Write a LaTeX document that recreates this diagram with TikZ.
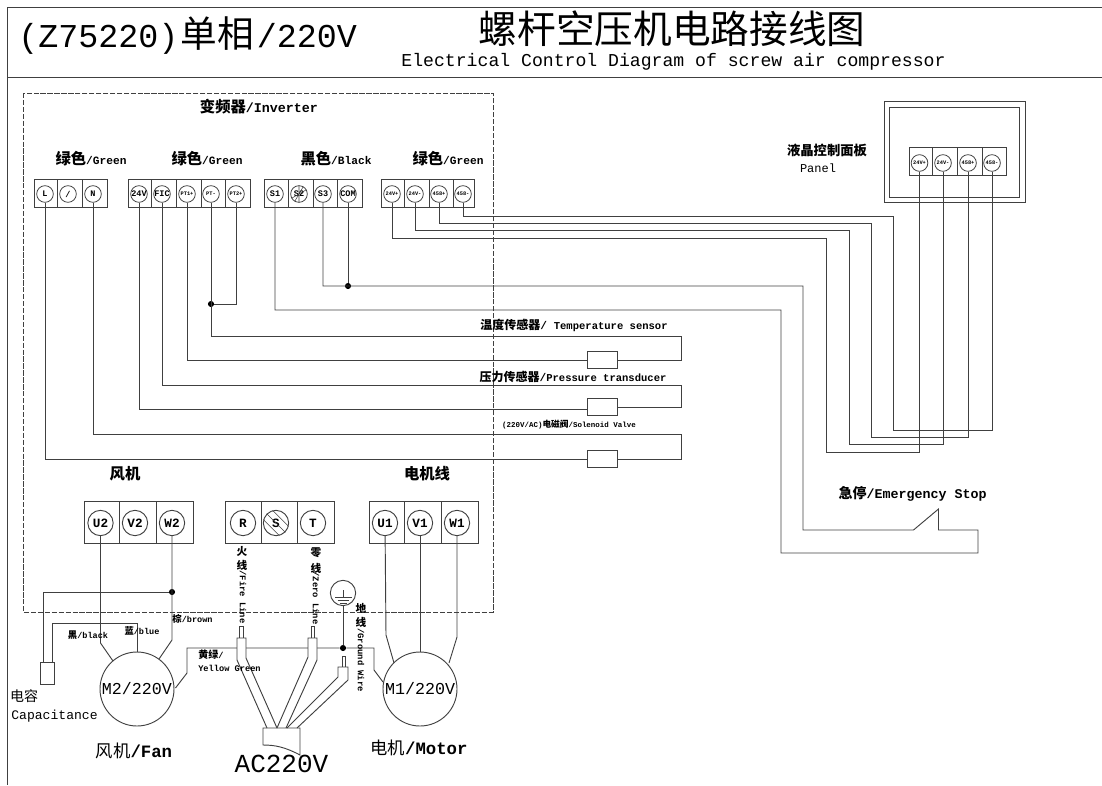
\documentclass[tikz,border=0pt]{standalone}
\usepackage{fontspec}
\setmainfont{Liberation Mono}
\newfontfamily\cjk{Noto Sans CJK SC}
\newcommand{\pxf}[1]{\fontsize{#1}{#1}\selectfont}
\newcommand{\zh}[2]{{\cjk\pxf{#1}#2}}
\definecolor{wirecol}{gray}{0.25}
\tikzset{
	wire/.style={draw=wirecol,line width=0.7pt},
	termS/.style={circle,draw=wirecol,line width=0.6pt,inner sep=0pt,minimum size=12.5pt,font=\bfseries\pxf{6.4}},
	termT/.style={termS,font=\bfseries\pxf{4}},
	termB/.style={circle,draw=wirecol,line width=0.7pt,inner sep=0pt,minimum size=19pt,font=\bfseries\pxf{9.5}},
	motor/.style={circle,draw=wirecol,line width=0.7pt,inner sep=0pt,minimum size=55.5pt,font=\pxf{12.5}},
	joint/.style={circle,fill=black,inner sep=0pt,minimum size=4.6pt},
	valvebox/.style={rectangle,draw=wirecol,line width=0.7pt,inner sep=0pt,minimum width=22.5pt,minimum height=13pt},
	txt/.style={inner sep=0pt,font=\bfseries\pxf{8.4}},
	sidetxt/.style={inner sep=0pt,rotate=-90,font=\bfseries\pxf{6.6}}
}
\begin{document}
\begin{tikzpicture}[x=0.75pt,y=-0.75pt]
	\useasboundingbox (0,0) rectangle (1102,785);
	% frame and title
	\draw[wire] (1102,7) -- (7,7) -- (7,785);
	\draw[wire] (7,77) -- (1102,77);
	\node[inner sep=0pt,anchor=west,font=\pxf{25}] (title) at (18,36) {(Z75220)\hspace{2pt}\zh{27.5}{单相}\hspace{2pt}/220V};
	\node[inner sep=0pt] (titlecn) at (672,28.5) {\zh{29}{螺杆空压机电路接线图}};
	\node[inner sep=0pt,font=\pxf{13.6}] (titleen) at (673.5,62) {Electrical Control Diagram of screw air compressor};
	
	% inverter
	\draw[wire,line width=0.5pt,dash pattern=on 4pt off 1.2pt] (23,93) rectangle (493,612);
	\node[txt] (inv) at (259,107) {\zh{11.5}{变频器}\pxf{10}/Inverter};
	\node[txt] (grnA) at (91,159) {\zh{11.5}{绿色}/Green};
	\node[txt] (grnB) at (207,159) {\zh{11.5}{绿色}/Green};
	\node[txt] (blk) at (336,159) {\zh{11.5}{黑色}/Black};
	\node[txt] (grnC) at (448,159) {\zh{11.5}{绿色}/Green};
	
	\draw[wire] (34,179) rectangle (107,207) (57,179) -- (57,207) (82,179) -- (82,207);
	\node[termS] (L) at (45,194) {L};
	\node[termS] (slash) at (68,194) {/};
	\node[termS] (N) at (93,194) {N};
	
	\draw[wire] (128,179) rectangle (250,207) (151,179) -- (151,207) (176,179) -- (176,207) (201,179) -- (201,207) (225,179) -- (225,207);
	\node[termS] (v24) at (139,194) {24V};
	\node[termS] (FIC) at (162,194) {FIC};
	\node[termT] (PTa) at (187,194) {PT1+};
	\node[termT] (PTm) at (211,194) {PT-};
	\node[termT] (PTb) at (236,194) {PT2+};
	
	\draw[wire] (264,179) rectangle (362,207) (288,179) -- (288,207) (313,179) -- (313,207) (337,179) -- (337,207);
	\node[termS] (Sa) at (275,194) {S1};
	\node[termS] (Sb) at (299,194) {S2};
	\draw[wire,line width=0.4pt] (Sb.60) -- (Sb.-120) (Sb.30) -- (Sb.-150) (Sb.90) -- (Sb.-90);
	\node[termS] (Sc) at (323,194) {S3};
	\node[termS] (COM) at (348,194) {COM};
	
	\draw[wire] (381,179) rectangle (474,207) (404,179) -- (404,207) (429,179) -- (429,207) (453,179) -- (453,207);
	\node[termT] (vp) at (392,194) {24V+};
	\node[termT] (vm) at (415,194) {24V-};
	\node[termT] (dp) at (439,194) {458+};
	\node[termT] (dm) at (463,194) {458-};
	
	% panel
	\draw[wire] (884,101) rectangle (1025,202);
	\draw[wire] (889.5,107) rectangle (1019.5,197);
	\node[txt,font=\pxf{10}] (panelcn) at (827,150) {\zh{10}{\bfseries 液晶控制面板}};
	\node[txt,font=\pxf{9}] (panelen) at (818,168) {Panel};
	\draw[wire] (909.5,147) rectangle (1006.5,175) (932.5,147) -- (932.5,175) (957.5,147) -- (957.5,175) (982,147) -- (982,175);
	\node[termT] (pvp) at (919.5,163) {24V+};
	\node[termT] (pvm) at (943,163) {24V-};
	\node[termT] (pdp) at (968,163) {458+};
	\node[termT] (pdm) at (992,163) {458-};
	
	% bus to panel
	\coordinate (busAa) at (463,216);
	\coordinate (busAb) at (893.5,216);
	\coordinate (busAc) at (893.5,430);
	\coordinate (busAd) at (992,430);
	\draw[wire] (dm) -- (busAa) -- (busAb) -- (busAc) -- (busAd) -- (pdm);
	\coordinate (busBa) at (439,223);
	\coordinate (busBb) at (871,223);
	\coordinate (busBc) at (871,437);
	\coordinate (busBd) at (968,437);
	\draw[wire] (dp) -- (busBa) -- (busBb) -- (busBc) -- (busBd) -- (pdp);
	\coordinate (busCa) at (415,230);
	\coordinate (busCb) at (849,230);
	\coordinate (busCc) at (849,444);
	\coordinate (busCd) at (943,444);
	\draw[wire] (vm) -- (busCa) -- (busCb) -- (busCc) -- (busCd) -- (pvm);
	\coordinate (busDa) at (392,238);
	\coordinate (busDb) at (826,238);
	\coordinate (busDc) at (826,452);
	\coordinate (busDd) at (919.5,452);
	\draw[wire] (vp) -- (busDa) -- (busDb) -- (busDc) -- (busDd) -- (pvp);
	
	% emergency stop
	\node[joint] (jCOM) at (348,286) {};
	\coordinate (stpA) at (323,286);
	\coordinate (stpB) at (803,286);
	\coordinate (stpC) at (803,530);
	\coordinate (stpD) at (913.5,530);
	\coordinate (stpE) at (938.5,509);
	\coordinate (stpF) at (938.5,530);
	\coordinate (stpG) at (978,530);
	\coordinate (stpH) at (978,553);
	\coordinate (stpI) at (781,553);
	\coordinate (stpJ) at (781,310);
	\coordinate (stpK) at (275,310);
	\draw[wire] (Sc) -- (stpA) -- (stpB) -- (stpC) -- (stpD) -- (stpE) -- (stpF) -- (stpG) -- (stpH) -- (stpI) -- (stpJ) -- (stpK) -- (Sa);
	\draw[wire] (COM) -- (jCOM);
	\node[txt] (estop) at (912.5,494) {\zh{10.5}{急停}\pxf{10}/Emergency Stop};
	
	% temperature sensor
	\node[joint] (jPT) at (211,304) {};
	\coordinate (tmpA) at (236,304);
	\coordinate (tmpB) at (211,336);
	\coordinate (tmpC) at (681,336);
	\coordinate (tmpD) at (681,360);
	\coordinate (tmpE) at (187,360);
	\node[valvebox] (tmpbox) at (602,360) {};
	\draw[wire] (PTb) -- (tmpA) -- (jPT);
	\draw[wire] (PTm) -- (tmpB) -- (tmpC) -- (tmpD) -- (tmpbox) -- (tmpE) -- (PTa);
	\node[txt] (tmptxt) at (574,325) {\zh{9}{温度传感器}/ \pxf{7.9}Temperature sensor};
	
	% pressure transducer
	\coordinate (prsA) at (162,385);
	\coordinate (prsB) at (681,385);
	\coordinate (prsC) at (681,407);
	\coordinate (prsD) at (587,409.5);
	\coordinate (prsE) at (139,409.5);
	\node[valvebox] (prsbox) at (602,407) {};
	\draw[wire] (FIC) -- (prsA) -- (prsB) -- (prsC) -- (prsbox);
	\draw[wire] (prsD) -- (prsE) -- (v24);
	\node[txt] (prstxt) at (573,377) {\zh{9}{压力传感器}/\pxf{7.9}Pressure transducer};
	
	% solenoid valve
	\coordinate (solA) at (93,434);
	\coordinate (solB) at (681,434);
	\coordinate (solC) at (681,459);
	\coordinate (solD) at (45,459);
	\node[valvebox] (solbox) at (602,459) {};
	\draw[wire] (N) -- (solA) -- (solB) -- (solC) -- (solbox) -- (solD) -- (L);
	\node[txt,font=\bfseries\pxf{5.6}] (soltxt) at (569,425) {(220V/AC)\zh{6.5}{电磁阀}/Solenoid Valve};
	
	% lower terminals
	\node[txt] (fancn) at (125,474) {\zh{11.5}{风机}};
	\node[txt] (motcn) at (427,474) {\zh{11.5}{电机线}};
	
	\draw[wire] (84,501) rectangle (193,543) (119,501) -- (119,543) (156,501) -- (156,543);
	\node[termB] (Ub) at (100.5,523) {U2};
	\node[termB] (Vb) at (135,523) {V2};
	\node[termB] (Wb) at (172,523) {W2};
	
	\draw[wire] (225,501) rectangle (334,543) (261,501) -- (261,543) (297,501) -- (297,543);
	\node[termB] (R) at (243,523) {R};
	\node[termB] (S) at (276,523) {S};
	\draw[wire,line width=0.4pt] (S.135) -- (S.-45) (S.165) -- (S.-75) (S.105) -- (S.-15);
	\node[termB] (T) at (313,523) {T};
	
	\draw[wire] (369,501) rectangle (478,543) (404,501) -- (404,543) (441,501) -- (441,543);
	\node[termB] (Ua) at (385,523) {U1};
	\node[termB] (Va) at (420,523) {V1};
	\node[termB] (Wa) at (457,523) {W1};
	
	% fan
	\node[motor] (Mb) at (137,689) {M2/220V};
	\node[rectangle,draw=wirecol,line width=0.7pt,inner sep=0pt,minimum width=10.5pt,minimum height=16pt] (cap) at (47,673.5) {};
	\node[joint] (jW) at (172,592) {};
	\coordinate (capA) at (43,592);
	\coordinate (capB) at (43,663);
	\coordinate (capC) at (52,623);
	\coordinate (capD) at (52,663);
	\coordinate (capE) at (137,623);
	\coordinate (fanU) at (100.5,643);
	\coordinate (fanUm) at (113,661);
	\coordinate (fanV) at (137,652);
	\coordinate (fanW) at (172,640);
	\coordinate (fanWm) at (159,659);
	\draw[wire] (Ub) -- (fanU) -- (fanUm);
	\draw[wire] (Wb) -- (fanW) -- (fanWm);
	\draw[wire] (jW) -- (capA) -- (capB);
	\draw[wire] (capD) -- (capC) -- (capE) -- (fanV);
	\node[txt,font=\bfseries\pxf{6.4}] (brown) at (192.5,619) {\zh{7}{棕}/brown};
	\node[txt,font=\bfseries\pxf{6.4}] (black) at (88,635) {\zh{7}{黑}/black};
	\node[txt,font=\bfseries\pxf{6.4}] (blue) at (142,631) {\zh{7}{蓝}/blue};
	\node[txt,font=\pxf{10}] (capcn) at (24,696) {\zh{10.5}{电容}};
	\node[txt,font=\pxf{9.8}] (capen) at (54.5,716) {Capacitance};
	\node[txt] (fantxt) at (134,751) {\zh{13}{\mdseries 风机}\pxf{13}/Fan};
	
	% motor
	\node[motor] (Ma) at (420,689) {M1/220V};
	\coordinate (motU) at (386,635);
	\coordinate (motUm) at (394,663);
	\coordinate (motV) at (420,652);
	\coordinate (motW) at (457,637);
	\coordinate (motWm) at (449,663);
	\draw[wire] (Ua) -- (motU) -- (motUm);
	\draw[wire] (Va) -- (motV);
	\draw[wire] (Wa) -- (motW) -- (motWm);
	\node[txt] (mottxt) at (419,748) {\zh{13}{\mdseries 电机}\pxf{13}/Motor};
	
	% ground line
	\node[joint] (jG) at (343,648) {};
	\node[circle,draw=wirecol,line width=0.7pt,inner sep=0pt,minimum size=19pt] (gnd) at (343,593) {};
	\coordinate (gTop) at (343,590);
	\coordinate (gMid) at (343,597);
	\coordinate (gndA) at (175.5,688);
	\coordinate (gndB) at (187,673);
	\coordinate (gndC) at (187,648);
	\coordinate (gndD) at (374,648);
	\coordinate (gndE) at (374,670);
	\coordinate (gndF) at (383,682);
	\draw[wire] (gndA) -- (gndB) -- (gndC) -- (jG) -- (gndD) -- (gndE) -- (gndF);
	\draw[wire] (gnd) -- (jG);
	\draw[wire,line width=0.5pt] (gTop) -- (gMid) (335,597) -- (352,597) (337.5,600) -- (349,600) (340,603) -- (346.5,603);
	
	% mains plug
	\draw[wire,fill=white] (239,626) rectangle (243,638);
	\draw[wire,fill=white] (311,626) rectangle (314,638);
	\draw[wire,fill=white] (342,656) rectangle (345,667);
	\draw[wire,fill=white] (267,728) -- (237,660) -- (237,638) -- (246,638) -- (246,658) -- (277,728);
	\draw[wire,fill=white] (277,728) -- (308,657) -- (308,638) -- (317,638) -- (317,660) -- (286,728);
	\draw[wire,fill=white] (287,728) -- (338,677) -- (338,667) -- (348,667) -- (348,680) -- (297,728);
	\draw[wire] (263,728) -- (300,728) -- (300,755) .. controls (285,747) and (275,745) .. (263,745) -- cycle;
	\node[txt,font=\pxf{19.5}] (ac) at (281.5,764) {AC220V};
	
	% side labels
	\node[txt,font=\bfseries\pxf{8}] (firea) at (242,551) {\zh{8}{火}};
	\node[txt,font=\bfseries\pxf{8}] (fireb) at (242,565) {\zh{8}{线}};
	\node[sidetxt] (firec) at (243,597) {/Fire Line};
	\node[txt,font=\bfseries\pxf{8}] (zeroa) at (316,553) {\zh{8}{零}};
	\node[txt,font=\bfseries\pxf{8}] (zerob) at (316,568) {\zh{8}{线}};
	\node[sidetxt] (zeroc) at (316,598) {/Zero Line};
	\node[txt,font=\bfseries\pxf{8}] (grda) at (361,608) {\zh{8}{地}};
	\node[txt,font=\bfseries\pxf{8}] (grdb) at (361,622) {\zh{8}{线}};
	\node[sidetxt] (grdc) at (361,660) {/Ground Wire};
	\node[txt,font=\bfseries\pxf{6.5}] (yga) at (211,655) {\zh{7.5}{黄绿}/};
	\node[txt,font=\bfseries\pxf{6.5}] (ygb) at (229.5,668) {Yellow Green};
\end{tikzpicture}
\end{document}
